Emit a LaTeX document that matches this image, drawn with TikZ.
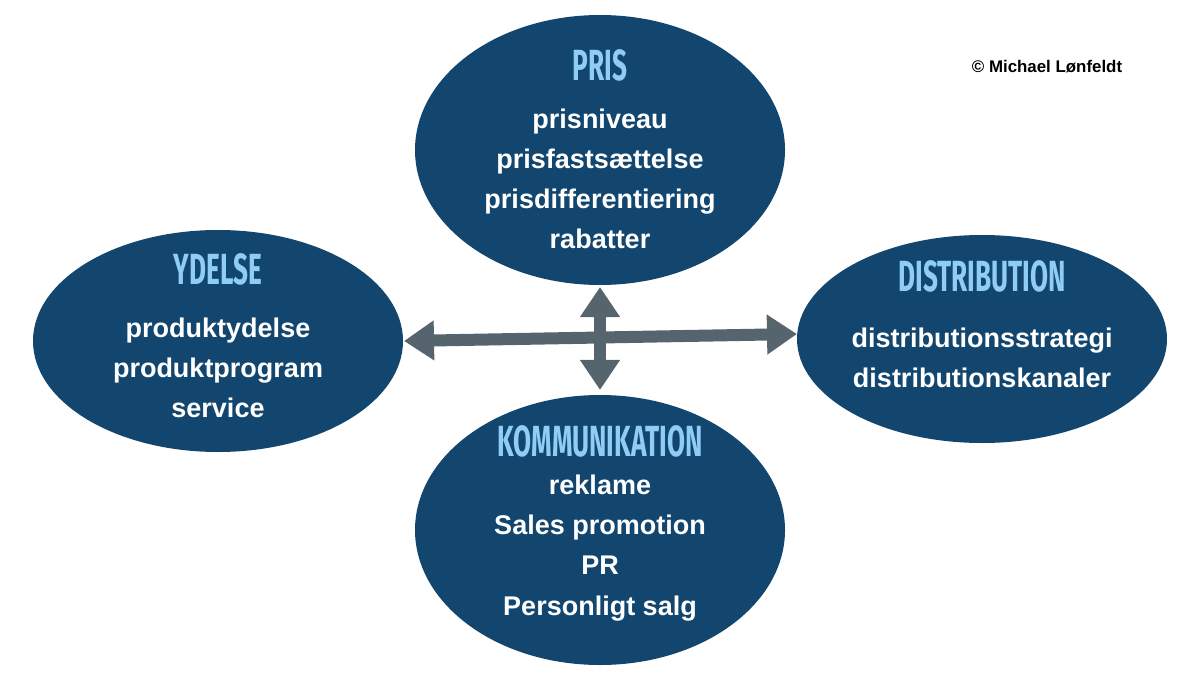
\documentclass[tikz,border=0pt]{standalone}
\usepackage{fontspec}
\setmainfont{Liberation Sans}
\newfontfamily\titlefont{Fira Sans}
\usetikzlibrary{arrows.meta}
\definecolor{ell}{HTML}{12466F}
\definecolor{ttl}{HTML}{8FCDF4}
\definecolor{arr}{HTML}{56646E}
\begin{document}
\begin{tikzpicture}[x=0.025cm,y=-0.025cm,
  ttl/.style={text=ttl,font=\titlefont\bfseries\fontsize{31}{31}\selectfont},
  body/.style={text=white,font=\bfseries\fontsize{19.2}{28.5}\selectfont,align=center},
  arr/.style={draw=arr,line width=0.3cm,{Triangle[width=0.95cm,length=0.75cm]}-{Triangle[width=0.95cm,length=0.75cm]}}]
\useasboundingbox (0,0) rectangle (1200,675);
\path[fill=ell] (600,150) ellipse [x radius=185,y radius=135];
\path[fill=ell] (218,341) ellipse [x radius=185,y radius=111];
\path[fill=ell] (982,339) ellipse [x radius=185,y radius=104];
\path[fill=ell] (600,530) ellipse [x radius=185,y radius=135];
\coordinate (pb) at (600,287);
\coordinate (kt) at (600,390);
\coordinate (yr) at (404,341);
\coordinate (dl) at (797,334);
\draw[arr] (yr) -- (dl);
\draw[arr] (pb) -- (kt);
\node[ttl] (t1) at (600,65) {\scalebox{0.6}[1]{PRIS}};
\node[body] (b1) at (600,179) {prisniveau\\prisfastsættelse\\prisdifferentiering\\rabatter};
\node[ttl] (t2) at (218,269) {\scalebox{0.6}[1]{YDELSE}};
\node[body] (b2) at (218,368) {produktydelse\\produktprogram\\service};
\node[ttl] (t3) at (982,276) {\scalebox{0.6}[1]{DISTRIBUTION}};
\node[body] (b3) at (982,358) {distributionsstrategi\\distributionskanaler};
\node[ttl] (t4) at (600,441) {\scalebox{0.6}[1]{KOMMUNIKATION}};
\node[body] (b4) at (600,548) {reklame\\Sales promotion\\PR\\Personligt salg};
\node[font=\bfseries\fontsize{12}{12}\selectfont] (c) at (1047,67) {© Michael Lønfeldt};
\end{tikzpicture}
\end{document}
